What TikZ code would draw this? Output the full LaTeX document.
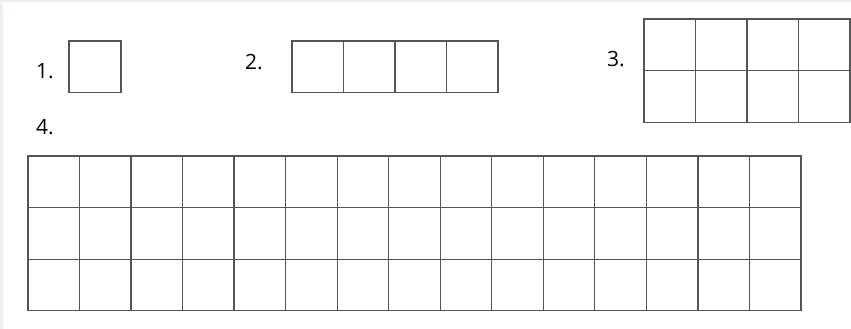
\documentclass[tikz,border=0pt]{standalone}
\usepackage{fontspec}
\setmainfont{Open Sans}
\usetikzlibrary{positioning}
\definecolor{sheetEdge}{RGB}{236, 240, 244}
\definecolor{cellLine}{RGB}{85, 85, 85}

\newcommand{\cellrow}[5]{% x, y, cols, rows, cell width
    \draw[cell] (#1,#2) rectangle ++(#3*#5,#4*51.6);
    \foreach \c in {1,...,#3} {\draw[cell] (#1+\c*#5,#2) -- ++(0,#4*51.6);}
    \foreach \r in {1,...,#4} {\draw[cell] (#1,#2+\r*51.6) -- ++(#3*#5,0);}
}

\begin{document}
\begin{tikzpicture}[
    x=1pt, y=-1pt,
    cell/.style={
        draw=cellLine,
        line width=1.3pt
    },
    label/.style={
        font=\fontsize{21}{21}\selectfont,
        text=black,
        inner sep=0pt
    }
]

% sheet
\fill[sheetEdge] (0,0) rectangle (851,329);
\fill[white] (3,2) rectangle (851,329);
\useasboundingbox (0,0) rectangle (851,329);

% 1. one cell
\node[label] (num1) at (45,71) {1.};
\cellrow{69}{41}{1}{1}{52}

% 2. four cells in a row
\node[label] (num2) at (254,62) {2.};
\cellrow{292}{41}{4}{1}{51.5}

% 3. four by two
\node[label] (num3) at (616,59) {3.};
\cellrow{644}{19}{4}{2}{51.5}

% 4. fifteen by three
\node[label] (num4) at (45,127) {4.};
\cellrow{28}{156}{15}{3}{51.53}

\end{tikzpicture}
\end{document}
